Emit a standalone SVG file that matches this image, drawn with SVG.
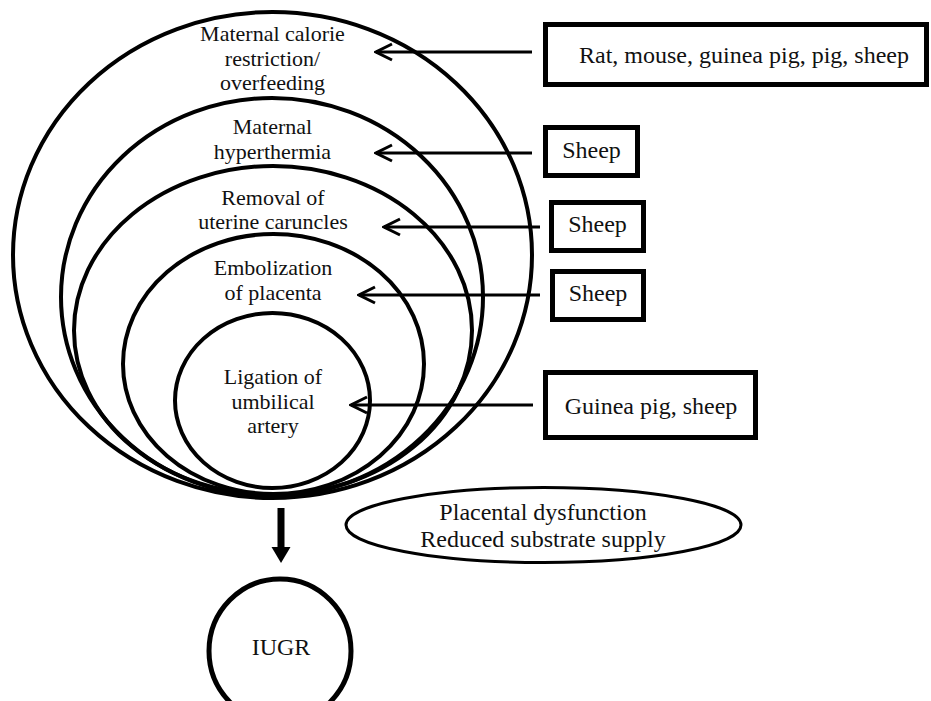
<svg xmlns="http://www.w3.org/2000/svg" width="931" height="701" viewBox="0 0 931 701">
<style>
  .ring { fill: none; stroke: #000; stroke-width: 4; }
  .box { fill: #fff; stroke: #000; stroke-width: 5; }
  .lbl { font-family: "Liberation Serif", "Times New Roman", serif; font-size: 24px; fill: #111; text-anchor: middle; }
  .rl { font-size: 22px; }
  .conn { fill: none; stroke: #000; stroke-width: 3; }
</style>
<defs>
  <marker id="chev" viewBox="0 0 20 20" refX="18" refY="10" markerWidth="20" markerHeight="20" markerUnits="userSpaceOnUse" orient="auto">
    <path d="M2 2 L18 10 L2 18" fill="none" stroke="#000" stroke-width="3"/>
  </marker>
</defs>
<rect width="931" height="701" fill="#fff"/>

<g id="ring-calorie">
  <ellipse class="ring" cx="272.5" cy="255" rx="259.5" ry="243"/>
  <text class="lbl rl"><tspan x="272.5" y="41">Maternal calorie</tspan><tspan x="272.5" y="65.5">restriction/</tspan><tspan x="272.5" y="90">overfeeding</tspan></text>
</g>
<g id="ring-hyperthermia">
  <ellipse class="ring" cx="272" cy="297" rx="211" ry="199"/>
  <text class="lbl rl"><tspan x="272.5" y="134">Maternal</tspan><tspan x="272.5" y="158.5">hyperthermia</tspan></text>
</g>
<g id="ring-caruncles">
  <ellipse class="ring" cx="273" cy="330.5" rx="199" ry="164.5"/>
  <text class="lbl rl"><tspan x="273" y="204.5">Removal of</tspan><tspan x="273" y="229">uterine caruncles</tspan></text>
</g>
<g id="ring-embolization">
  <ellipse class="ring" cx="273.5" cy="364" rx="150.5" ry="130"/>
  <text class="lbl rl"><tspan x="273" y="275">Embolization</tspan><tspan x="273" y="299.5">of placenta</tspan></text>
</g>
<g id="ring-ligation">
  <ellipse class="ring" cx="272.5" cy="400.5" rx="97.5" ry="87.5"/>
  <text class="lbl rl"><tspan x="273" y="384">Ligation of</tspan><tspan x="273" y="408.5">umbilical</tspan><tspan x="273" y="433">artery</tspan></text>
</g>

<g id="box-rat">
  <rect class="box" x="545.5" y="24.5" width="381" height="60"/>
  <text class="lbl" x="744" y="63">Rat, mouse, guinea pig, pig, sheep</text>
</g>
<g id="box-sheep1">
  <rect class="box" x="545.5" y="127.5" width="92" height="48"/>
  <text class="lbl" x="591.5" y="158">Sheep</text>
</g>
<g id="box-sheep2">
  <rect class="box" x="551.5" y="202.5" width="92" height="48"/>
  <text class="lbl" x="597.5" y="232">Sheep</text>
</g>
<g id="box-sheep3">
  <rect class="box" x="552.5" y="271.5" width="91" height="48"/>
  <text class="lbl" x="598" y="301">Sheep</text>
</g>
<g id="box-guinea">
  <rect class="box" x="545.5" y="372.5" width="210" height="65"/>
  <text class="lbl" x="651" y="414">Guinea pig, sheep</text>
</g>

<g id="placental">
  <ellipse cx="543.5" cy="525" rx="197.5" ry="37.5" fill="none" stroke="#000" stroke-width="3"/>
  <text class="lbl"><tspan x="543" y="520">Placental dysfunction</tspan><tspan x="543" y="547">Reduced substrate supply</tspan></text>
</g>

<g id="iugr">
  <ellipse cx="280" cy="651" rx="71" ry="72" fill="none" stroke="#000" stroke-width="5"/>
  <text class="lbl" x="281" y="655">IUGR</text>
</g>

<g id="connectors">
  <line class="conn" x1="532" y1="52" x2="376" y2="52" marker-end="url(#chev)"/>
  <line class="conn" x1="532" y1="153" x2="376" y2="153" marker-end="url(#chev)"/>
  <line class="conn" x1="540" y1="227" x2="384" y2="227" marker-end="url(#chev)"/>
  <line class="conn" x1="540" y1="295" x2="359" y2="295" marker-end="url(#chev)"/>
  <line class="conn" x1="533" y1="405" x2="351" y2="405" marker-end="url(#chev)"/>
  <rect x="277.5" y="508" width="7" height="41" fill="#000"/>
  <polygon points="271.5,547 290.5,547 281,563" fill="#000"/>
</g>
</svg>
